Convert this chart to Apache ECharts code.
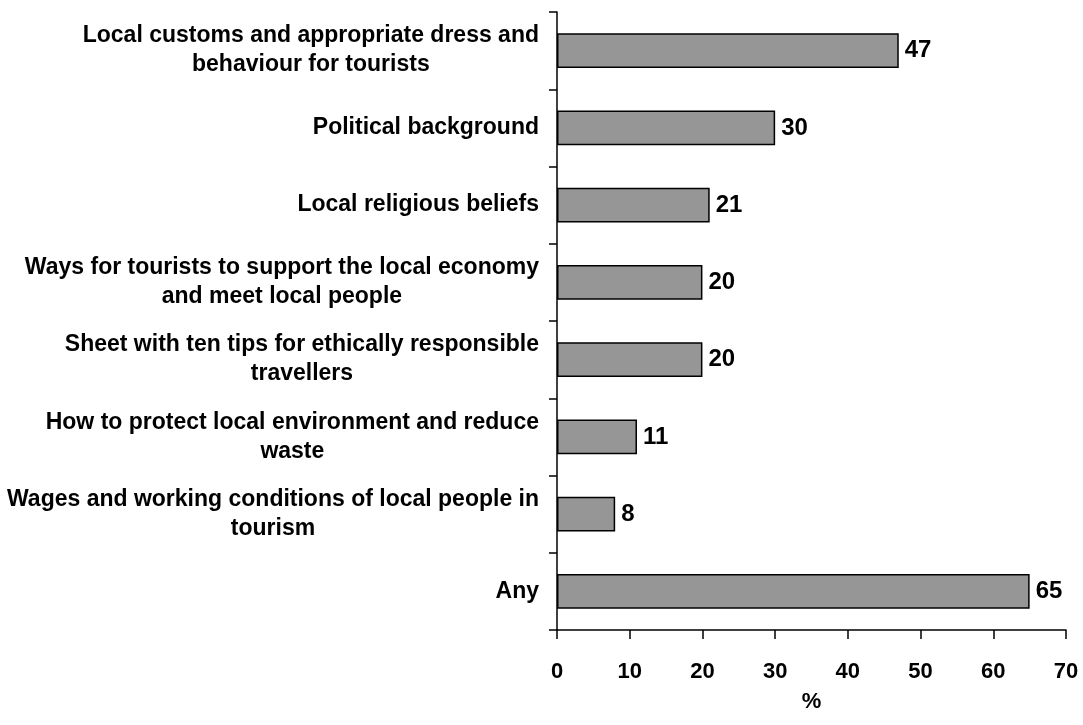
<!DOCTYPE html>
<html>
<head>
  <meta charset="utf-8">
  <title>Tourist information</title>
  <script src="https://cdn.jsdelivr.net/npm/echarts@6/dist/echarts.min.js"></script>
  <style>
    html, body { margin: 0; padding: 0; background: #fff; }
    #main { width: 1083px; height: 725px; }
  </style>
</head>
<body>
  <div id="main"></div>
  <script>
    // categories, top to bottom as in the picture
    var categories = [
      'Local customs and appropriate dress and\nbehaviour for tourists',
      'Political background',
      'Local religious beliefs',
      'Ways for tourists to support the local economy\nand meet local people',
      'Sheet with ten tips for ethically responsible\ntravellers',
      'How to protect local environment and reduce\nwaste',
      'Wages and working conditions of local people in\ntourism',
      'Any'
    ];
    var values = [47, 30, 21, 20, 20, 11, 8, 65];
    var xTicks = [0, 10, 20, 30, 40, 50, 60, 70];

    var font = 'Liberation Sans, Arial, sans-serif';
    var chart = echarts.init(document.getElementById('main'));

    chart.setOption({
      animation: false,
      grid: { left: 557, right: 17, top: 12, bottom: 95 },
      xAxis: {
        type: 'value',
        min: xTicks[0],
        max: xTicks[xTicks.length - 1],
        interval: 10,
        name: '%',
        nameLocation: 'middle',
        nameGap: 61,
        nameTextStyle: { fontFamily: font, fontWeight: 'bold', fontSize: 22, color: '#000' },
        splitLine: { show: false },
        axisLine: { show: true, lineStyle: { color: '#000', width: 1.5 } },
        axisTick: { show: true, length: 9, inside: false, lineStyle: { color: '#000', width: 1.5 } },
        axisLabel: { margin: 31, fontFamily: font, fontWeight: 'bold', fontSize: 22, color: '#000' }
      },
      yAxis: {
        type: 'category',
        inverse: true,
        data: categories,
        axisLine: { show: true, lineStyle: { color: '#000', width: 1.5 } },
        axisTick: { show: true, length: 8, alignWithLabel: false, lineStyle: { color: '#000', width: 1.5 } },
        axisLabel: {
          margin: 18,
          fontFamily: font,
          fontWeight: 'bold',
          fontSize: 23,
          color: '#000',
          lineHeight: 29,
          formatter: function (v) {
            return v.split('\n').map(function (s) { return '{c|' + s + '}'; }).join('\n');
          },
          rich: {
            c: { align: 'center', fontFamily: font, fontWeight: 'bold', fontSize: 23, color: '#000', lineHeight: 29 }
          }
        }
      },
      series: [{
        type: 'bar',
        data: values,
        barWidth: '45%',
        itemStyle: { color: '#969696', borderColor: '#000', borderWidth: 1.5 },
        label: {
          show: true,
          position: 'right',
          distance: 6,
          fontFamily: font,
          fontWeight: 'bold',
          fontSize: 24,
          color: '#000'
        }
      }]
    });
  </script>
</body>
</html>
